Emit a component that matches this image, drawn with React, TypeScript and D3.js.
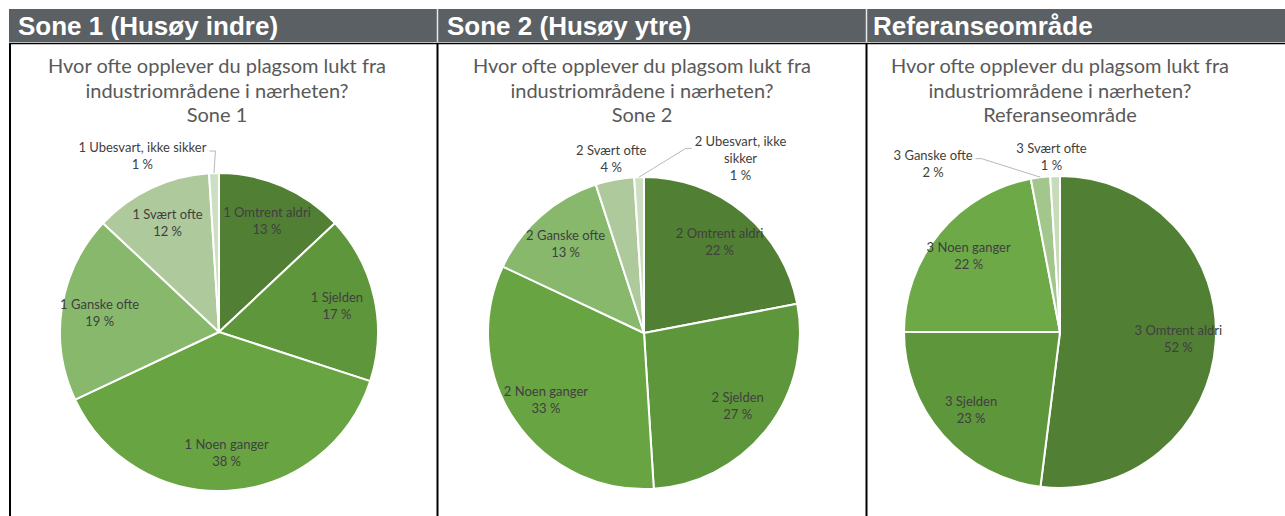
import React from 'react';
import * as d3 from 'd3';

// answer categories, in the order the slices run clockwise from 12 o'clock
const categories = ['Omtrent aldri', 'Sjelden', 'Noen ganger', 'Ganske ofte', 'Svært ofte', 'Ubesvart, ikke sikker'];

const headers = ['Sone 1 (Husøy indre)', 'Sone 2 (Husøy ytre)', 'Referanseområde'];
const titleLines = ['Hvor ofte opplever du plagsom lukt fra', 'industriområdene i nærheten?'];
const subtitles = ['Sone 1', 'Sone 2', 'Referanseområde'];
const prefixes = ['1', '2', '3'];

// percentages per zone
const sone1Values = [13, 17, 38, 19, 12, 1];
const sone2Values = [22, 27, 33, 13, 4, 1];
const referanseValues = [52, 23, 22, 2, 1];

const greens6 = ['#517f33', '#5e963b', '#69a443', '#88b86c', '#aec99b', '#cddfc2'];
const greens5 = ['#517f33', '#5e963b', '#6daa47', '#a3c68c', '#c6dbb9'];

const W = 1285;
const H = 516;
const LABEL_FONT = '13px Lato';

// layout of each panel (not data)
const panels = [
  { values: sone1Values, colors: greens6, cx: 219, cy: 332, r: 159, callouts: { 5: { dx: -71, dy: 2 } } as Record<number, any> },
  { values: sone2Values, colors: greens6, cx: 644, cy: 333, r: 156, callouts: { 4: { dx: 0, dy: -2 }, 5: { dx: 102, dy: 0, wrap: 100 } } as Record<number, any> },
  { values: referanseValues, colors: greens5, cx: 1060, cy: 332, r: 156, callouts: { 3: { dx: -105, dy: 5 }, 4: { dx: -3, dy: 0 } } as Record<number, any> },
];

let ctx: CanvasRenderingContext2D | null = null;
function measure(text: string) {
  if (!ctx) ctx = document.createElement('canvas').getContext('2d');
  if (!ctx) return text.length * 6.5;
  ctx.font = LABEL_FONT;
  return ctx.measureText(text).width;
}

function wrap(text: string, maxW?: number) {
  if (!maxW) return [text];
  const words = text.split(' ');
  const lines: string[] = [];
  let cur = '';
  words.forEach((w) => {
    const t = cur ? cur + ' ' + w : w;
    if (measure(t) > maxW && cur) {
      lines.push(cur);
      cur = w;
    } else cur = t;
  });
  if (cur) lines.push(cur);
  return lines;
}

const Pie = ({ p, idx }: { p: typeof panels[0]; idx: number }) => {
  const pie = d3.pie<number>().sort(null).value((d) => d);
  const arcs = pie(p.values);
  const arc = d3.arc<d3.PieArcDatum<number>>().innerRadius(0).outerRadius(p.r);
  const lineH = 17;

  const pointAt = (a: number, rr: number) => [p.cx + rr * Math.sin(a), p.cy - rr * Math.cos(a)];

  return (
    <g>
      <g transform={`translate(${p.cx},${p.cy})`}>
        {arcs.map((a, i) => (
          <path key={i} d={arc(a) || ''} fill={p.colors[i]} stroke="#fff" strokeWidth={2} strokeLinejoin="round" />
        ))}
      </g>
      {arcs.map((a, i) => {
        const mid = (a.startAngle + a.endAngle) / 2;
        const cat = `${prefixes[idx]} ${categories[i]}`;
        const pct = `${a.data} %`;
        const co = p.callouts[i];
        let cx: number, cy: number, lines: string[];
        let leader: string | null = null;
        if (co) {
          lines = [...wrap(cat, co.wrap), pct];
          const [bx, by] = pointAt(mid, p.r * 1.12);
          cx = bx + co.dx;
          cy = by + co.dy;
          if (Math.abs(co.dx) > 20) {
            const w = d3.max(lines, measure) || 0;
            const [x0, y0] = pointAt(mid, p.r);
            const ay = cy - (lines.length - 1) * 5;
            const ax = co.dx < 0 ? cx + w / 2 + 3 : cx - w / 2 - 3;
            const ex = co.dx < 0 ? ax + 6 : ax - 6;
            leader = `M${x0},${y0}L${ex},${ay}L${ax},${ay}`;
          }
        } else {
          lines = [cat, pct];
          [cx, cy] = pointAt(mid, p.r * 0.76);
        }
        const y0 = cy - ((lines.length - 1) * lineH) / 2;
        return (
          <g key={'l' + i}>
            {leader && <path d={leader} fill="none" stroke="#a6a6a6" strokeWidth={0.8} />}
            <text textAnchor="middle" fill="#404040" style={{ font: LABEL_FONT }}>
              {lines.map((t, k) => (
                <tspan key={k} x={cx} y={y0 + k * lineH} dy="0.35em">
                  {t}
                </tspan>
              ))}
            </text>
          </g>
        );
      })}
    </g>
  );
};

export default function App() {
  const sepX = [437.5, 866.5];
  const headerX = [18, 447, 873];
  return (
    <svg width={W} height={H} style={{ position: 'absolute', left: 0, top: 0, background: '#fff' }}>
      <rect x={9} y={9} width={W - 9} height={33} fill="#5b6064" />
      {sepX.map((x) => (
        <line key={x} x1={x} x2={x} y1={9} y2={42} stroke="#e8e8e8" strokeWidth={1.5} />
      ))}
      <line x1={9} x2={W} y1={43.5} y2={43.5} stroke="#000" strokeWidth={1.5} />
      {[10, ...sepX].map((x) => (
        <line key={'v' + x} x1={x} x2={x} y1={43} y2={H} stroke="#000" strokeWidth={2} />
      ))}
      {headers.map((h, i) => (
        <text key={h} x={headerX[i]} y={35} fill="#fff" style={{ font: 'bold 26px "Liberation Sans", Arial, sans-serif' }}>
          {h}
        </text>
      ))}
      {panels.map((p, i) => (
        <g key={'t' + i}>
          <text textAnchor="middle" fill="#595959" style={{ font: '20px Lato' }}>
            {[...titleLines, subtitles[i]].map((t, k) => (
              <tspan key={k} x={p.cx - (i === 2 ? 0 : 2)} y={73 + k * 24.5}>
                {t}
              </tspan>
            ))}
          </text>
          <Pie p={p} idx={i} />
        </g>
      ))}
    </svg>
  );
}
